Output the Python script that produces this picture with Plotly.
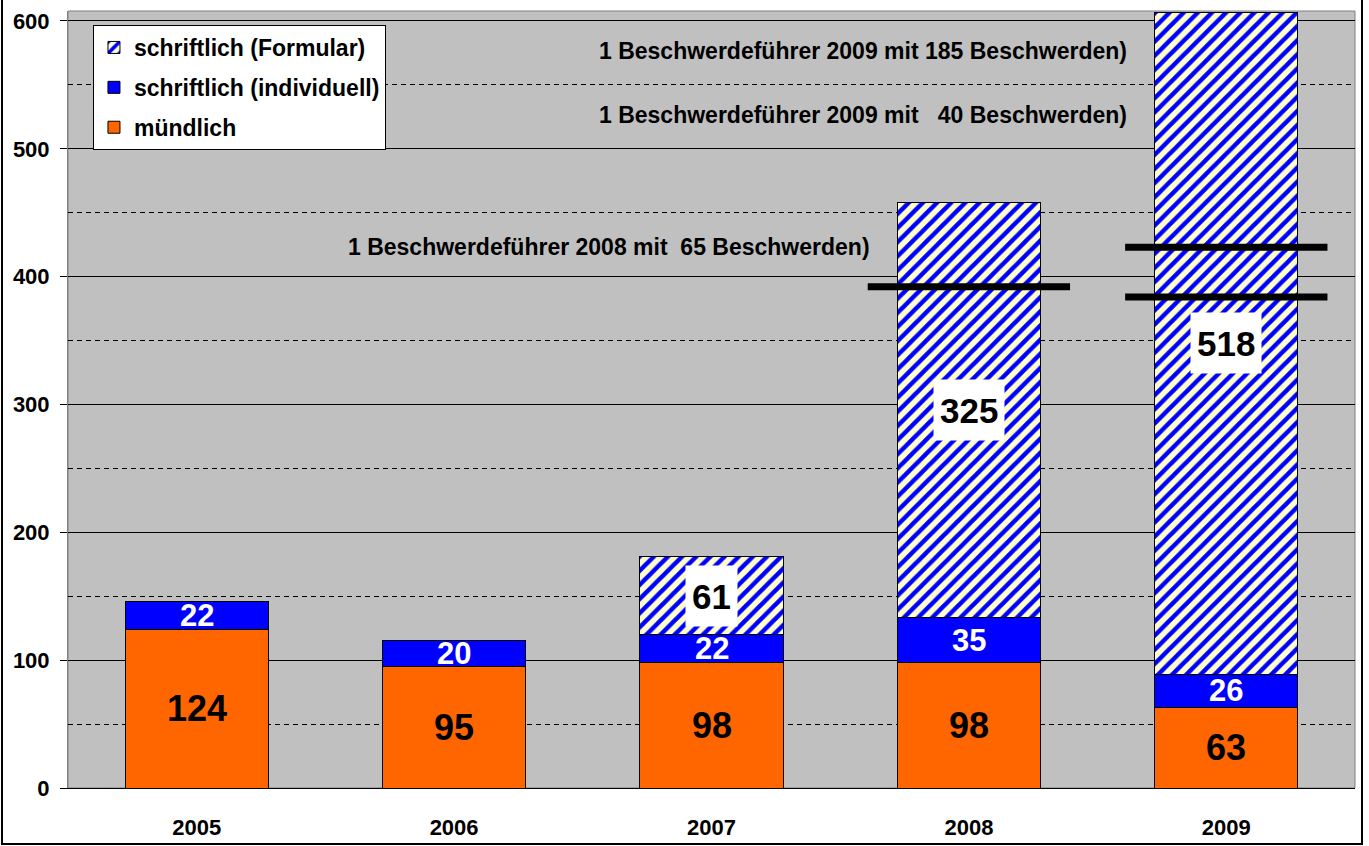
import plotly.graph_objects as go

years = ["2005", "2006", "2007", "2008", "2009"]
muendlich = [124, 95, 98, 98, 63]
individuell = [22, 20, 22, 35, 26]
formular = [0, 0, 61, 325, 518]
series_names = ["mündlich", "schriftlich (individuell)", "schriftlich (Formular)"]

# reference levels (single complainants) drawn as black marks
marker_years = ["2008", "2009", "2009"]
marker_levels = [392, 423, 384]
notes = [
    "1 Beschwerdeführer 2009 mit 185 Beschwerden)",
    "1 Beschwerdeführer 2009 mit   40 Beschwerden)",
    "1 Beschwerdeführer 2008 mit  65 Beschwerden)",
]
y_ticks = [0, 100, 200, 300, 400, 500, 600]

FONT = "Liberation Sans, Arial, sans-serif"
ORANGE = "#FF6600"
BLUE = "#0000FF"

fig = go.Figure()
fig.add_trace(go.Bar(
    x=years, y=muendlich, name=series_names[0], legendrank=3, legendgroup="m",
    marker=dict(color=ORANGE, line=dict(color="black", width=1)),
    hoverinfo="skip",
))
fig.add_trace(go.Bar(
    x=years, y=individuell, name=series_names[1], legendrank=2, legendgroup="i",
    marker=dict(color=BLUE, line=dict(color="black", width=1)),
    hoverinfo="skip",
))
fig.add_trace(go.Bar(
    x=years, y=formular, name=series_names[2], legendrank=1, legendgroup="f",
    marker=dict(color=BLUE, line=dict(color="black", width=1),
                pattern=dict(shape="/", bgcolor="#FFFFCC", fgcolor=BLUE,
                             size=10, solidity=0.45, fillmode="replace")),
    hoverinfo="skip",
))

annotations = []
for i, yr in enumerate(years):
    m = muendlich[i]
    annotations.append(dict(x=i, y=m / 2, text=str(m), showarrow=False,
                            font=dict(family=FONT, size=36, color="black", weight="bold")))
    b = individuell[i]
    annotations.append(dict(x=i, y=m + b / 2, text=str(b), showarrow=False,
                            font=dict(family=FONT, size=31, color="white", weight="bold")))
    f = formular[i]
    if f > 0:
        annotations.append(dict(x=i, y=m + b + f / 2, text=str(f), showarrow=False,
                                bgcolor="white", borderpad=6, height=48,
                                font=dict(family=FONT, size=35, color="black", weight="bold")))

note_pos = [(0.618, 0.9485), (0.618, 0.8662), (0.4204, 0.6963)]
for t, (px, py) in zip(notes, note_pos):
    annotations.append(dict(xref="paper", yref="paper", x=px, y=py, text=t,
                            showarrow=False, xanchor="center", yanchor="middle",
                            font=dict(family=FONT, size=23, color="black", weight="bold")))

shapes = []
for yr, lvl in zip(marker_years, marker_levels):
    idx = years.index(yr)
    shapes.append(dict(type="line", xref="x", yref="y", x0=idx - 0.393, x1=idx + 0.393,
                       y0=lvl, y1=lvl, line=dict(color="black", width=7), layer="above"))
# outer figure border
shapes.append(dict(type="rect", xref="paper", yref="paper",
                   x0=(2 - 68) / 1287, x1=(1362 - 68) / 1287,
                   y0=(788 - 844) / 777, y1=(788 + 3) / 777,
                   line=dict(color="black", width=2), fillcolor="rgba(0,0,0,0)"))
# plot-area border (gray)
shapes.append(dict(type="rect", xref="paper", yref="paper", x0=0, x1=1, y0=0, y1=1,
                   line=dict(color="#808080", width=1), layer="below"))

fig.update_layout(
    width=1369, height=846,
    margin=dict(l=68, r=14, t=11, b=58, autoexpand=False),
    paper_bgcolor="white", plot_bgcolor="#C0C0C0",
    barmode="stack", bargap=0.444,
    font=dict(family=FONT, color="black"),
    showlegend=True,
    legend=dict(x=0.0194, y=0.982, xanchor="left", yanchor="top",
                bgcolor="white", bordercolor="black", borderwidth=1,
                traceorder="grouped", tracegroupgap=7, itemwidth=30,
                font=dict(family=FONT, size=23, color="black", weight="bold")),
    annotations=annotations,
    shapes=shapes,
)
fig.update_xaxes(
    type="category",
    showgrid=False, showline=True, linecolor="black", linewidth=1,
    ticks="", ticklabelstandoff=20, automargin=False,
    tickfont=dict(family=FONT, size=22, color="black", weight="bold"),
    range=[-0.5, 4.5],
)
fig.update_yaxes(
    range=[0, 607.8], tickvals=y_ticks, ticks="outside", ticklen=7, tickcolor="black",
    showgrid=True, gridcolor="black", gridwidth=1,
    minor=dict(dtick=50, tick0=0, showgrid=True, gridcolor="black", griddash="5px,4px",
               gridwidth=1, ticks=""),
    showline=True, linecolor="#808080", zeroline=False, automargin=False,
    ticklabelstandoff=6,
    tickfont=dict(family=FONT, size=22, color="black", weight="bold"),
)

fig.write_html("out.html", config={"displayModeBar": False},
               post_script="document.body.style.margin='0';document.body.style.overflow='hidden';")
